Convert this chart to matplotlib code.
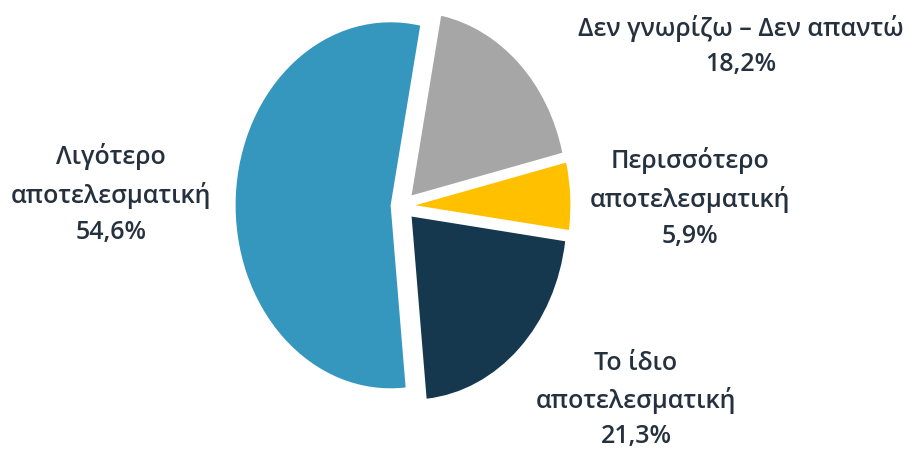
import matplotlib
matplotlib.use("Agg")
import matplotlib.pyplot as plt

# ── data ──────────────────────────────────────────────────────────────────────
labels = ["Δεν γνωρίζω – Δεν απαντώ", "Περισσότερο\nαποτελεσματική",
          "Το ίδιο\nαποτελεσματική", "Λιγότερο\nαποτελεσματική"]
values = [18.2, 5.9, 21.3, 54.6]
pct_text = ["18,2%", "5,9%", "21,3%", "54,6%"]

# ── style ─────────────────────────────────────────────────────────────────────
COLORS = ["#A6A6A6", "#FFC000", "#16384F", "#3596BE"]
TEXT = "#25313F"
plt.rcParams["font.family"] = ["Open Sans", "DejaVu Sans"]

W, H = 913, 457
fig = plt.figure(figsize=(W / 100, H / 100), dpi=100)
ax = fig.add_axes([0, 0, 1, 1])

ax.pie(values, colors=COLORS, startangle=79, counterclock=False,
       explode=[0.08] * len(values), radius=1.0,
       wedgeprops=dict(linewidth=0))

# slightly tall ellipse, as in the reference
cx, cy = 403, 206          # pie centre in pixels (from top)
sx, sy = 155, 183          # pixels per data unit
ax.set_aspect("auto")
ax.set_xlim(-cx / sx, (W - cx) / sx)
ax.set_ylim(-(H - cy) / sy, cy / sy)
ax.axis("off")

# label positions (pixel centres, from top)
label_pos = [(741, 46), (690, 198), (636, 400), (111, 194)]
for lab, pct, (px, py) in zip(labels, pct_text, label_pos):
    fig.text(px / W, 1 - py / H, f"{lab}\n{pct}", ha="center", va="center",
             fontsize=18, fontweight="semibold", color=TEXT, linespacing=1.55)

fig.savefig("out.png", dpi=100)
